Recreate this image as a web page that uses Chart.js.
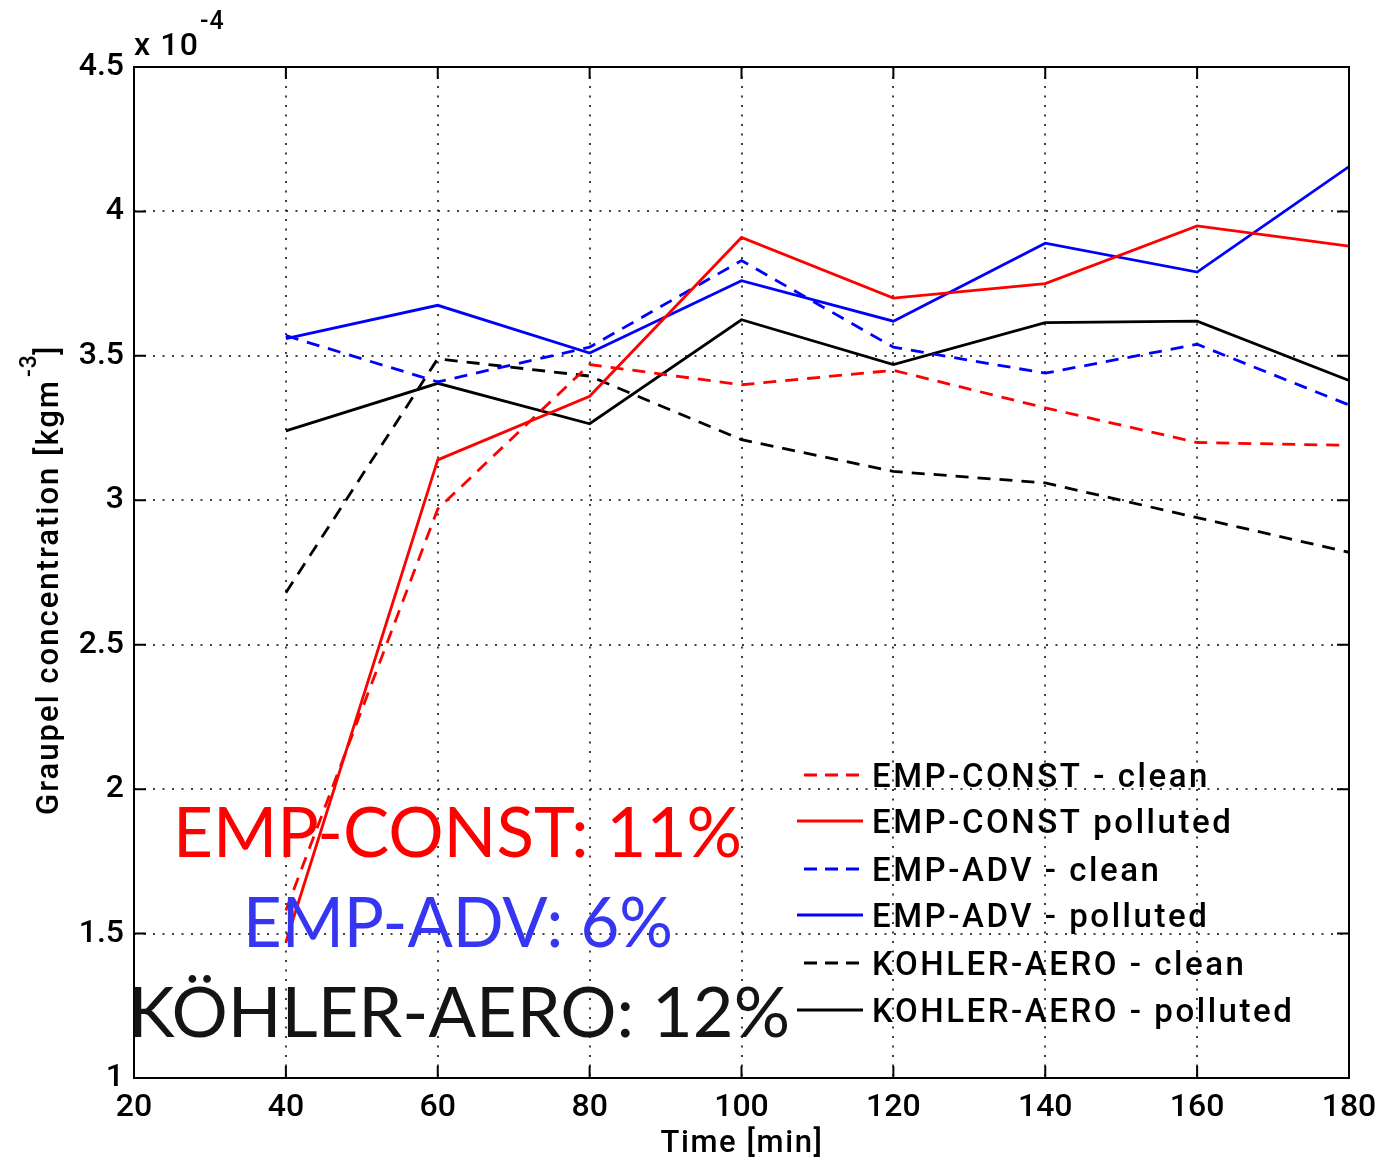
<!DOCTYPE html>
<html>
<head>
<meta charset="utf-8">
<title>Graupel concentration</title>
<script src="https://cdn.jsdelivr.net/npm/chart.js@4.4.0/dist/chart.umd.min.js"></script>
<style>
  html, body { margin: 0; padding: 0; background: #fff; }
  #wrap { width: 1382px; height: 1162px; position: relative; }
</style>
</head>
<body>
<div id="wrap"><canvas id="myChart"></canvas></div>
<script>
// time axis [min] and graupel concentration [x 1e-4 kg m^-3]
var times = [40, 60, 80, 100, 120, 140, 160, 180];
var empConstClean    = [1.58, 2.97, 3.47, 3.40, 3.45, 3.32, 3.20, 3.19];
var empConstPolluted = [1.47, 3.14, 3.36, 3.91, 3.70, 3.75, 3.95, 3.88];
var empAdvClean      = [3.57, 3.41, 3.53, 3.83, 3.53, 3.44, 3.54, 3.33];
var empAdvPolluted   = [3.56, 3.675, 3.51, 3.76, 3.62, 3.89, 3.79, 4.155];
var kohlerClean      = [2.68, 3.49, 3.43, 3.21, 3.10, 3.06, 2.94, 2.82];
var kohlerPolluted   = [3.24, 3.405, 3.265, 3.625, 3.47, 3.615, 3.62, 3.415];

var xTicks = [20, 40, 60, 80, 100, 120, 140, 160, 180];
var yTicks = [1, 1.5, 2, 2.5, 3, 3.5, 4, 4.5];

var seriesNames = [
  'EMP-CONST - clean', 'EMP-CONST polluted',
  'EMP-ADV - clean', 'EMP-ADV - polluted',
  'KOHLER-AERO - clean', 'KOHLER-AERO - polluted'
];
var notes = ['EMP-CONST: 11%', 'EMP-ADV: 6%', 'KÖHLER-AERO: 12%'];

function pts(vals) {
  return times.map(function (t, i) { return { x: t, y: vals[i] }; });
}

var dash = [13, 9];
function series(name, vals, color, dashed) {
  return {
    label: name,
    data: pts(vals),
    borderColor: color,
    borderWidth: 2.8,
    borderDash: dashed ? dash : [],
    pointRadius: 0,
    tension: 0,
    fill: false
  };
}

var datasets = [
  series(seriesNames[0], empConstClean, '#ff0000', true),
  series(seriesNames[1], empConstPolluted, '#ff0000', false),
  series(seriesNames[2], empAdvClean, '#0000ff', true),
  series(seriesNames[3], empAdvPolluted, '#0000ff', false),
  series(seriesNames[4], kohlerClean, '#000000', true),
  series(seriesNames[5], kohlerPolluted, '#000000', false)
];

var TXT = 'Roboto, "Liberation Sans", Arial, sans-serif';
function f(size) { return '500 ' + size + 'px ' + TXT; }

// draw text squeezed/stretched to a given width
function fitText(ctx, text, left, baseline, width) {
  var w = ctx.measureText(text).width;
  ctx.save();
  ctx.translate(left, baseline);
  ctx.scale(width / w, 1);
  ctx.fillText(text, 0, 0);
  ctx.restore();
}

// letter spacing that makes a string span the given width
function spacingFor(ctx, text, width) {
  ctx.letterSpacing = '0px';
  var w = ctx.measureText(text).width;
  return Math.max(0, (width - w) / text.length);
}

var matlabAxes = {
  id: 'matlabAxes',
  afterDraw: function (chart) {
    var ctx = chart.ctx;
    var a = chart.chartArea;
    var xs = chart.scales.x, ys = chart.scales.y;
    ctx.save();

    // box and inward tick marks
    ctx.strokeStyle = '#000';
    ctx.lineWidth = 2;
    ctx.strokeRect(a.left, a.top, a.right - a.left, a.bottom - a.top);
    ctx.beginPath();
    xTicks.forEach(function (v) {
      var px = xs.getPixelForValue(v);
      ctx.moveTo(px, a.bottom); ctx.lineTo(px, a.bottom - 12);
      ctx.moveTo(px, a.top); ctx.lineTo(px, a.top + 12);
    });
    yTicks.forEach(function (v) {
      var py = ys.getPixelForValue(v);
      ctx.moveTo(a.left, py); ctx.lineTo(a.left + 12, py);
      ctx.moveTo(a.right, py); ctx.lineTo(a.right - 12, py);
    });
    ctx.stroke();

    ctx.fillStyle = '#000';
    ctx.textBaseline = 'alphabetic';

    // exponent above the y axis
    ctx.font = f(32);
    ctx.textAlign = 'left';
    ctx.letterSpacing = spacingFor(ctx, 'x 10', 65) + 'px';
    ctx.fillText('x 10', a.left, 55);
    ctx.font = f(25);
    ctx.letterSpacing = '1px';
    ctx.fillText('-4', a.left + 66, 29);

    // x title
    ctx.font = f(31);
    ctx.letterSpacing = spacingFor(ctx, 'Time [min]', 163) + 'px';
    ctx.textAlign = 'left';
    ctx.fillText('Time [min]', (a.left + a.right) / 2 - 81, 1152);

    // y title with superscript
    ctx.save();
    ctx.translate(58, 815);
    ctx.rotate(-Math.PI / 2);
    ctx.textAlign = 'left';
    var main = 'Graupel concentration [kgm';
    ctx.font = f(31);
    var ls = spacingFor(ctx, main, 436);
    ctx.letterSpacing = ls + 'px';
    var w1 = ctx.measureText(main).width;
    ctx.fillText(main, 0, 0);
    ctx.fillText(']', w1 + 24, 0);
    ctx.font = f(23);
    ctx.letterSpacing = '1px';
    ctx.fillText('-3', w1 + 2, -22);
    ctx.restore();

    // legend inside the axes
    var rows = [775, 821, 869, 915, 963, 1010];
    ctx.font = f(33);
    ctx.textAlign = 'left';
    var lsp = spacingFor(ctx, seriesNames[0], 338);
    ctx.letterSpacing = lsp + 'px';
    chart.data.datasets.forEach(function (ds, i) {
      var ry = rows[i];
      ctx.strokeStyle = ds.borderColor;
      ctx.lineWidth = 2.8;
      ctx.setLineDash(ds.borderDash.length ? [13, 8] : []);
      ctx.beginPath();
      ctx.moveTo(ds.borderDash.length ? 804 : 797, ry);
      ctx.lineTo(863, ry);
      ctx.stroke();
      ctx.setLineDash([]);
      ctx.fillStyle = '#000';
      ctx.fillText(ds.label, 872, ry + 12);
    });

    // percentage notes
    ctx.letterSpacing = '0px';
    ctx.font = '70px Lato, "Open Sans", sans-serif';
    ctx.textAlign = 'left';
    ctx.fillStyle = '#ff0000';
    fitText(ctx, notes[0], 173, 857, 569);
    ctx.fillStyle = '#3535f2';
    fitText(ctx, notes[1], 243, 947, 430);
    ctx.fillStyle = '#141414';
    fitText(ctx, notes[2], 128, 1037, 662);

    ctx.restore();
  }
};

var ctx = document.getElementById('myChart').getContext('2d');
var chart = new Chart(ctx, {
  type: 'line',
  data: { datasets: datasets },
  options: {
    responsive: true,
    maintainAspectRatio: false,
    animation: false,
    events: [],
    layout: { padding: { top: 67, right: 33, left: 0, bottom: 0 } },
    plugins: { legend: { display: false }, tooltip: { enabled: false } },
    scales: {
      x: {
        type: 'linear',
        min: 20, max: 180,
        afterBuildTicks: function (s) { s.ticks = xTicks.map(function (v) { return { value: v }; }); },
        afterFit: function (s) { s.height = 84; s.paddingLeft = 0; s.paddingRight = 0; },
        ticks: { color: '#000', font: { family: TXT, size: 32, weight: '500' }, padding: 11, maxRotation: 0 },
        grid: { color: 'rgba(30,30,30,0.85)', lineWidth: 2, drawTicks: false },
        border: { display: false, dash: [2, 7.5] }
      },
      y: {
        min: 1, max: 4.5,
        afterBuildTicks: function (s) { s.ticks = yTicks.map(function (v) { return { value: v }; }); },
        afterFit: function (s) { s.width = 134; s.paddingTop = 0; s.paddingBottom = 0; },
        ticks: {
          color: '#000', font: { family: TXT, size: 32, weight: '500' }, padding: 10,
          callback: function (v) { return String(v); }
        },
        grid: { color: 'rgba(30,30,30,0.85)', lineWidth: 2, drawTicks: false },
        border: { display: false, dash: [2, 7.5] }
      }
    }
  },
  plugins: [matlabAxes]
});
</script>
</body>
</html>
